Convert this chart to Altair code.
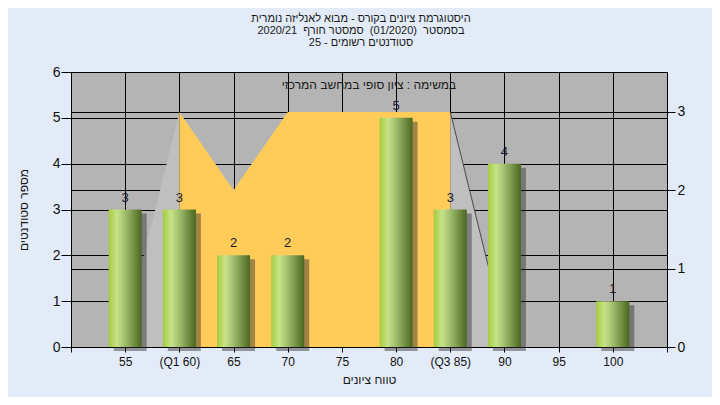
import altair as alt
import pandas as pd

# ---- data ----
grades = [55, 60, 65, 70, 75, 80, 85, 90, 95, 100]
counts = [3, 3, 2, 2, 0, 5, 3, 4, 0, 1]

band_x = [60, 65, 70, 75, 80, 85]
band_y = [3, 2, 3, 3, 3, 3]

side_group = ["L", "L", "R", "R"]
side_x = [54.65, 60, 85, 90.35]
side_y = [0, 3, 3, 0]

x_ticks = [50, 55, 60, 65, 70, 75, 80, 85, 90, 95, 100, 105]

NB = "\u00a0"
title_lines = [
    "היסטוגרמת ציונים בקורס - מבוא לאנליזה נומרית",
    "בסמסטר" + NB * 2 + "(01/2020)" + NB * 2 + "סמסטר חורף" + NB * 2 + "2020/21",
    "סטודנטים רשומים - 25",
]
note_text = "במשימה : ציון סופי במחשב המרכזי"
x_title = "טווח ציונים"
y_title = "מספר סטודנטים"

FONT = "Liberation Sans"
W, H = 596, 275

bars_df = pd.DataFrame({"grade": grades, "count": counts})
bars_df = bars_df[bars_df["count"] > 0]
band_df = pd.DataFrame({"grade": band_x, "v": band_y})
side_df = pd.DataFrame({"g": side_group, "grade": side_x, "v": side_y})

x_enc = alt.X(
    "grade:Q",
    scale=alt.Scale(domain=[50, 105], nice=False, zero=False, padding=0),
    axis=alt.Axis(
        values=x_ticks,
        labelExpr="datum.value==60 ? '(Q1 60)' : datum.value==85 ? '(Q3 85)' : (datum.value==50 || datum.value==105) ? '' : datum.label",
        title=x_title,
        grid=True,
        gridColor="black",
        gridOpacity=1,
        tickSize=5,
        tickColor="black",
        domainColor="black",
        labelFontSize=12,
        labelPadding=4,
        labelColor="#111",
        titleFontSize=12,
        titleFontWeight="normal",
        titleColor="#1a1a1a",
        titlePadding=7,
    ),
)

y_left = alt.Y(
    "count:Q",
    scale=alt.Scale(domain=[0, 6], nice=False, padding=0),
    axis=alt.Axis(
        orient="left",
        values=[0, 1, 2, 3, 4, 5, 6],
        format="d",
        title=y_title,
        grid=True,
        gridColor="black",
        gridOpacity=1,
        tickSize=10,
        tickColor="black",
        domainColor="black",
        labelFontSize=14,
        labelPadding=1,
        labelColor="#111",
        titleFontSize=12,
        titleFontWeight="normal",
        titleColor="#1a1a1a",
        titlePadding=22,
    ),
)

y_right = alt.Y(
    "v:Q",
    stack=None,
    scale=alt.Scale(domain=[0, 3.51], nice=False, padding=0),
    axis=alt.Axis(
        orient="right",
        values=[0, 1, 2, 3],
        format="d",
        title=None,
        grid=True,
        gridColor="black",
        gridOpacity=1,
        tickSize=8,
        tickColor="black",
        domainColor="black",
        labelFontSize=14,
        labelPadding=2,
        labelColor="#111",
    ),
)

side_area = alt.Chart(side_df).mark_area(color="#bfbfbf", opacity=1).encode(
    x=x_enc, y=y_right, detail="g:N"
)
side_line = alt.Chart(side_df[side_df["g"] == "R"]).mark_line(
    color="#4a4a4a", strokeWidth=1
).encode(x=x_enc, y=y_right)
band = alt.Chart(band_df).mark_area(color="#ffcc5a", opacity=1).encode(
    x=x_enc, y=y_right
)
right_group = alt.layer(side_area, band, side_line)

bar_grad = alt.LinearGradient(
    gradient="linear",
    x1=0, x2=1, y1=0, y2=0,
    stops=[
        alt.GradientStop(color="#a2cc3e", offset=0),
        alt.GradientStop(color="#c8e38a", offset=0.25),
        alt.GradientStop(color="#97b566", offset=0.55),
        alt.GradientStop(color="#4a671f", offset=1),
    ],
)

shadow = alt.Chart(bars_df).mark_bar(
    size=33, xOffset=5, yOffset=4, color="rgba(45,45,45,0.45)"
).encode(x=x_enc, y=y_left)
bars = alt.Chart(bars_df).mark_bar(size=33, color=bar_grad).encode(x=x_enc, y=y_left)
labels = alt.Chart(bars_df).mark_text(
    fontSize=13, font=FONT, color="#1a1a33", dy=-8, baseline="alphabetic"
).encode(x=x_enc, y=y_left, text="count:Q")
note = alt.Chart(pd.DataFrame({"t": [note_text]})).mark_text(
    fontSize=12, font=FONT, color="#1a1a1a", baseline="middle"
).encode(x=alt.value(W / 2), y=alt.value(13), text="t:N")

left_group = alt.layer(shadow, bars, labels, note)

chart = (
    alt.layer(right_group, left_group)
    .resolve_scale(y="independent")
    .properties(
        width=W,
        height=H,
        autosize=alt.AutoSizeParams(type="none"),
        padding={"left": 63, "top": 64, "right": 45, "bottom": 50},
        background="#e2ebf7",
        title=alt.TitleParams(
            text=title_lines,
            fontSize=11,
            fontWeight="normal",
            font=FONT,
            color="#1a1a1a",
            lineHeight=12,
            anchor="middle",
            frame="group",
            dx=-8,
            offset=17,
        ),
    )
    .configure_view(fill="#b4b4b4", stroke="black", strokeWidth=1)
    .configure_axis(labelFont=FONT, titleFont=FONT)
)

chart.save("out.html", embed_options={"renderer": "svg", "actions": False})
